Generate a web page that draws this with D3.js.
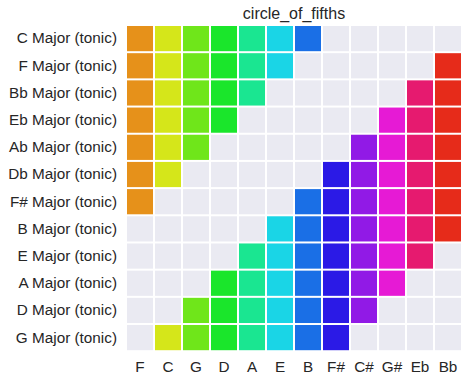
<!DOCTYPE html>
<html><head><meta charset="utf-8">
<script src="https://cdn.jsdelivr.net/npm/d3@7"></script>
<style>html,body{margin:0;padding:0;background:#fff;}</style>
</head><body>
<svg id="chart" width="468" height="382"></svg>
<script>
const title = "circle_of_fifths";
const notes = ["F","C","G","D","A","E","B","F#","C#","G#","Eb","Bb"];
const keys = ["C Major (tonic)","F Major (tonic)","Bb Major (tonic)","Eb Major (tonic)","Ab Major (tonic)","Db Major (tonic)","F# Major (tonic)","B Major (tonic)","E Major (tonic)","A Major (tonic)","D Major (tonic)","G Major (tonic)"];
const inScale = [
  [1,1,1,1,1,1,1,0,0,0,0,0],
  [1,1,1,1,1,1,0,0,0,0,0,1],
  [1,1,1,1,1,0,0,0,0,0,1,1],
  [1,1,1,1,0,0,0,0,0,1,1,1],
  [1,1,1,0,0,0,0,0,1,1,1,1],
  [1,1,0,0,0,0,0,1,1,1,1,1],
  [1,0,0,0,0,0,1,1,1,1,1,1],
  [0,0,0,0,0,1,1,1,1,1,1,1],
  [0,0,0,0,1,1,1,1,1,1,1,0],
  [0,0,0,1,1,1,1,1,1,1,0,0],
  [0,0,1,1,1,1,1,1,1,0,0,0],
  [0,1,1,1,1,1,1,1,0,0,0,0]
];
const noteColors = ["#e6911a","#d5e61a","#6fe61a","#1ae62b","#1ae691","#1ad5e6","#1a6fe6","#2b1ae6","#911ae6","#e61ad5","#e61a6f","#e62b1a"];
const emptyColor = "#eaeaf2";

const svg = d3.select("#chart");
const x = d3.scaleBand().domain(notes).range([126, 462]).padding(0);
const y = d3.scaleBand().domain(keys).range([25, 351.2]).padding(0);
const color = d3.scaleOrdinal().domain(notes).range(noteColors);

const cells = [];
keys.forEach((k, i) => notes.forEach((n, j) => cells.push({k, n, v: inScale[i][j]})));

svg.append("g").selectAll("rect").data(cells).join("rect")
  .attr("x", d => x(d.n) + 1)
  .attr("y", d => y(d.k) + 1)
  .attr("width", x.bandwidth() - 2)
  .attr("height", y.bandwidth() - 2)
  .attr("fill", d => d.v ? color(d.n) : emptyColor);

const font = "'Liberation Sans', Arial, sans-serif";
const xAxis = svg.append("g").attr("transform", "translate(0,351.2)")
  .call(d3.axisBottom(x).tickSize(0).tickPadding(10));
xAxis.select(".domain").remove();
xAxis.selectAll("text").attr("font-size", "15.3px").attr("font-family", font).attr("fill", "#262626");

const yAxis = svg.append("g").attr("transform", "translate(126,0)")
  .call(d3.axisLeft(y).tickSize(0).tickPadding(9));
yAxis.select(".domain").remove();
yAxis.selectAll("text").attr("font-size", "15.3px").attr("font-family", font).attr("fill", "#262626");

svg.append("text").attr("x", (126 + 462) / 2).attr("y", 19)
  .attr("text-anchor", "middle").attr("font-size", "16px").attr("font-family", font)
  .attr("fill", "#262626").text(title);
</script>
</body></html>
